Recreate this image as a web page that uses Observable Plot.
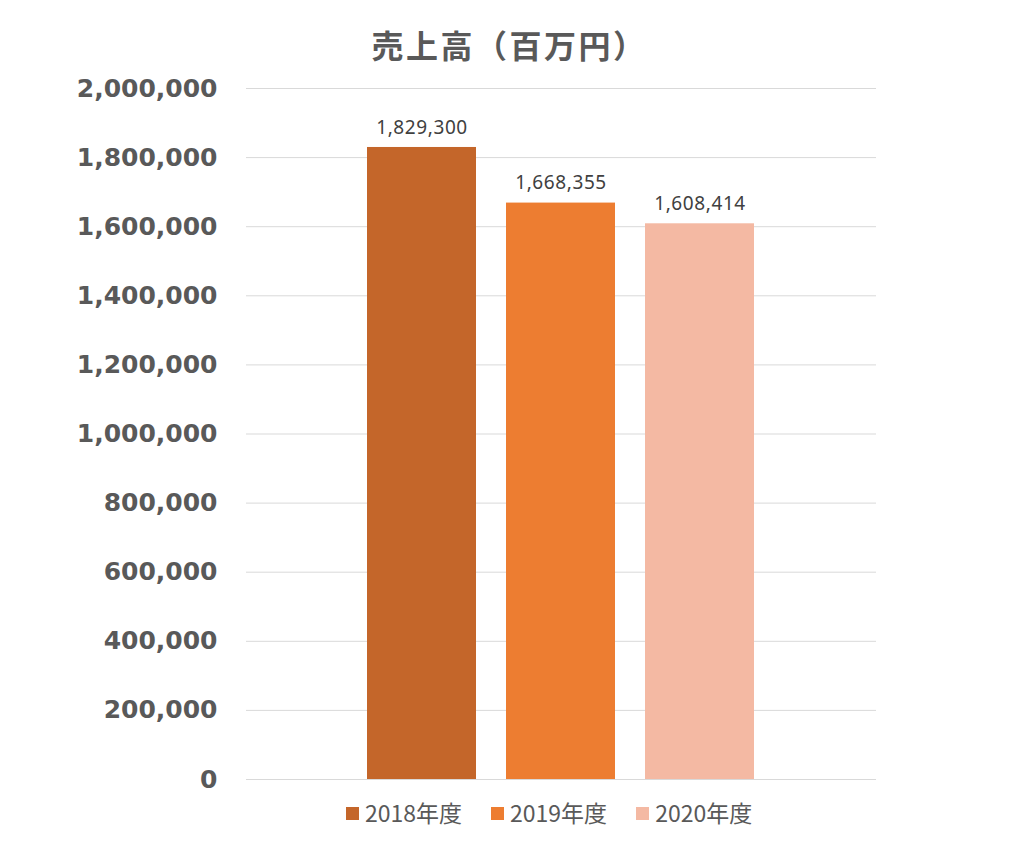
<!DOCTYPE html>
<html>
<head>
<meta charset="utf-8">
<script src="https://cdn.jsdelivr.net/npm/d3@7"></script>
<script src="https://cdn.jsdelivr.net/npm/@observablehq/plot@0.6"></script>
<style>
  html, body { margin: 0; padding: 0; background: #fff; }
  #wrap { position: relative; width: 1024px; height: 857px; overflow: hidden; }
  #title { position: absolute; left: 8px; width: 1003px; top: 28px; text-align: center;
    font-family: "Noto Sans CJK JP", sans-serif; font-weight: bold; font-size: 32px;
    letter-spacing: 2.5px; line-height: 32px; color: #595959; }
  #legend { position: absolute; left: 346px; top: 801px; display: flex; gap: 29px;
    font-family: "Noto Sans CJK JP", sans-serif; font-size: 23px; line-height: 23px; color: #595959; }
  .item { display: flex; align-items: center; }
  .sw { width: 13px; height: 13px; margin-right: 6px; margin-top: 1px; }
  #chart { position: absolute; left: 0; top: 0; }
</style>
</head>
<body>
<div id="wrap">
  <div id="chart"></div>
  <div id="title"></div>
  <div id="legend"></div>
</div>
<script>
const titleText = "売上高（百万円）";
const years = ["2018年度", "2019年度", "2020年度"];
const sales = [1829300, 1668355, 1608414];
const colors = ["#C4662A", "#ED7D31", "#F4B9A3"];
const yTicks = [0, 200000, 400000, 600000, 800000, 1000000, 1200000, 1400000, 1600000, 1800000, 2000000];

const data = years.map((y, i) => ({year: y, value: sales[i]}));
const fmt = d3.format(",");

document.getElementById("title").textContent = titleText;

const chart = Plot.plot({
  width: 1024,
  height: 857,
  marginTop: 88,
  marginBottom: 78,
  marginLeft: 246,
  marginRight: 148,
  x: {type: "band", domain: years, range: [352, 769], paddingInner: 0.2158, paddingOuter: 0.1079, axis: null},
  y: {domain: [0, 2000000], ticks: yTicks, tickFormat: fmt, label: null, tickSize: 0, tickPadding: 29},
  color: {domain: years, range: colors},
  style: {background: "transparent"},
  marks: [
    Plot.ruleY(yTicks, {stroke: "#d9d9d9", strokeWidth: 1}),
    Plot.axisY({ticks: yTicks, tickFormat: fmt, tickSize: 0, tickPadding: 29, label: null,
      fontSize: 25, fontWeight: "bold", fontFamily: "DejaVu Sans", fill: "#595959"}),
    Plot.barY(data, {x: "year", y: "value", fill: "year"}),
    Plot.text(data, {x: "year", y: "value", text: d => fmt(d.value), dy: -20,
      fontSize: 19, fontFamily: "Noto Sans", fill: "#404040"})
  ]
});
chart.querySelectorAll("g[aria-label='text'] text").forEach(t => {
  t.style.letterSpacing = "0.6px";
});
document.getElementById("chart").appendChild(chart);

const legend = document.getElementById("legend");
years.forEach((y, i) => {
  const item = document.createElement("div");
  item.className = "item";
  const sw = document.createElement("div");
  sw.className = "sw";
  sw.style.background = colors[i];
  const lab = document.createElement("span");
  lab.textContent = y;
  item.appendChild(sw);
  item.appendChild(lab);
  legend.appendChild(item);
});
</script>
</body>
</html>
